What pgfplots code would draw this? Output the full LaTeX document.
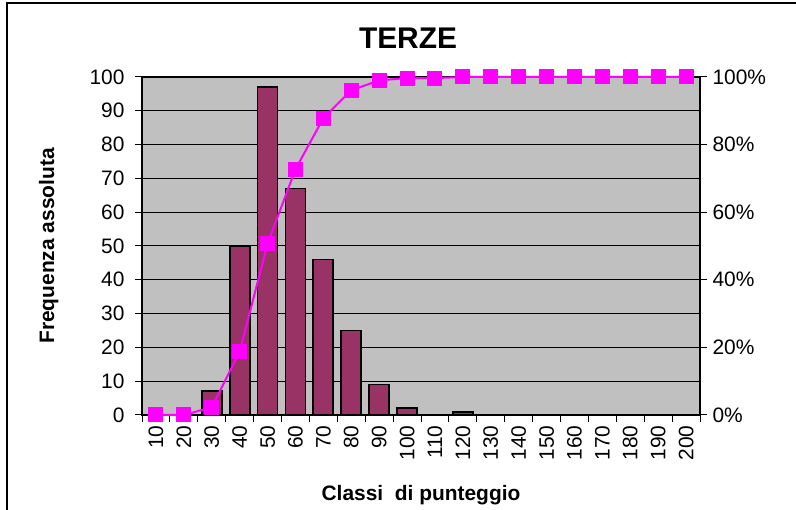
\documentclass[border=0pt]{standalone}
\usepackage{fontspec}
\setmainfont{Liberation Sans}
\usepackage{pgfplots}
\pgfplotsset{compat=1.18}
\definecolor{bgGray}{RGB}{192,192,192}
\definecolor{plum}{RGB}{153,51,102}
\definecolor{mag}{RGB}{255,0,255}
\newcommand{\tf}{\fontsize{21}{24}\selectfont}
\begin{document}
\begin{tikzpicture}[x=1bp,y=1bp]
\useasboundingbox (0,0) rectangle (796,510);
\draw[black, line width=1.2bp] (7,0) -- (7,507) -- (796,507);
\begin{axis}[
  at={(142bp,95bp)}, anchor=south west, scale only axis,
  width=558bp, height=338bp,
  xmin=-0.5, xmax=19.5, ymin=0, ymax=100,
  axis background/.style={fill=bgGray},
  xtick={0,...,19},
  xticklabels={10,20,30,40,50,60,70,80,90,100,110,120,130,140,150,160,170,180,190,200},
  major x tick style={draw=none},
  minor xtick={-0.5,0.5,...,19.5},
  minor x tick style={black, line width=1bp},
  minor tick length=7bp,
  xtick pos=bottom, ytick pos=left,
  ytick={0,10,...,100},
  tick align=outside, major tick length=7bp,
  y tick style={black, line width=1bp},
  ymajorgrids, grid style={black, line width=1bp},
  axis line style={black, line width=1.5bp},
  /pgf/number format/assume math mode=true,
  tick label style={font=\tf},
  xticklabel style={rotate=90, anchor=east},
  yticklabel style={xshift=-7bp},
  xlabel={Classi\ \ di punteggio},
  ylabel={Frequenza assoluta},
  label style={font=\tf\bfseries},
  xlabel style={at={(axis description cs:0.5,-0.237)}, anchor=center},
  ylabel style={at={(axis description cs:-0.167,0.5)}, anchor=center},
  title={TERZE},
  title style={font=\fontsize{30}{34}\selectfont\bfseries, at={(axis description cs:0.5,1)}, anchor=center, yshift=33bp, xshift=-13bp},
]
\addplot[ybar, bar width=20bp, fill=plum, draw=black, line width=1.8bp]
  coordinates {(2,7) (3,50) (4,97) (5,67) (6,46) (7,25) (8,9) (9,2) (11,1)};
\end{axis}
\begin{axis}[
  at={(142bp,95bp)}, anchor=south west, scale only axis,
  width=558bp, height=338bp,
  xmin=-0.5, xmax=19.5, ymin=0, ymax=100,
  axis y line*=right, axis x line=none,
  ytick={0,20,...,100},
  yticklabels={0\%,20\%,40\%,60\%,80\%,100\%},
  tick align=outside, major tick length=7bp,
  y tick style={black, line width=1bp},
  axis line style={black, line width=1.5bp},
  tick label style={font=\tf},
  yticklabel style={xshift=2bp},
  clip=false,
]
\addplot[mag, line width=2bp, mark=square*, mark size=6.5bp, mark options={solid, fill=mag}]
  coordinates {(0,0) (1,0) (2,2.30) (3,18.75) (4,50.66) (5,72.70) (6,87.83) (7,96.05) (8,99.01) (9,99.67) (10,99.67) (11,100) (12,100) (13,100) (14,100) (15,100) (16,100) (17,100) (18,100) (19,100)};
\end{axis}
\end{tikzpicture}
\end{document}
